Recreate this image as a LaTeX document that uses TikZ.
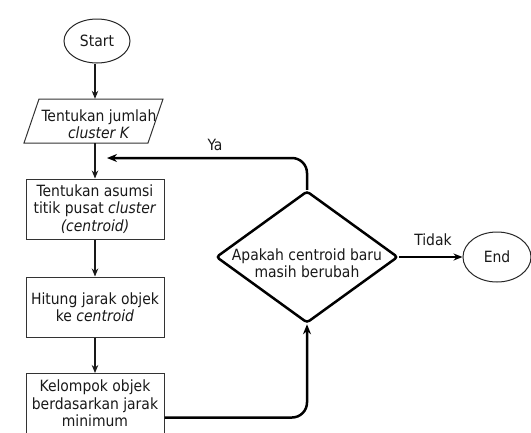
\documentclass[tikz,border=0pt]{standalone}
\usepackage{fontspec}
\setmainfont{DejaVu Sans Condensed}
\usetikzlibrary{shapes.geometric,arrows.meta}
\begin{document}
\begin{tikzpicture}[x=1pt,y=-1pt,
  every node/.style={font=\fontsize{15.5}{17.5}\selectfont, align=center, text=black!90},
  box/.style={draw=black!80, line width=1pt, minimum width=138pt, minimum height=60pt, inner sep=0pt},
  term/.style={draw=black!85, ellipse, line width=1pt, inner sep=0pt},
  flowarrow/.style={draw=black!90, line width=1.1pt, -{Stealth[length=8pt,width=6.5pt]}},
  loopline/.style={draw=black, line width=2.5pt, rounded corners=15pt, -{Stealth[length=10pt,width=8pt]}},
  exitarrow/.style={draw=black, line width=1.5pt, -{Stealth[length=9pt,width=7pt]}}
]
\useasboundingbox (0,0) rectangle (531,432);
% terminals
\node[term, minimum width=66pt, minimum height=44pt] (start) at (97,41) {Start};
\node[term, minimum width=68pt, minimum height=50pt] (end) at (497,257) {End};
% input parallelogram
\node[inner sep=0pt, minimum height=44pt, minimum width=124pt] (par) at (95,121) {};
\node[inner sep=0pt] (partext) at (99,124) {Tentukan jumlah\\\textit{cluster K}};
\draw[line width=1pt, black!80] (39,99) -- (163,99) -- (148,143) -- (24,143) -- cycle;
% process boxes
\node[box] (b1) at (95,209) {Tentukan asumsi\\titik pusat \textit{cluster}\\\textit{(centroid)}};
\node[box] (b2) at (95,307) {Hitung jarak objek\\ke \textit{centroid}};
\node[box] (b3) at (95,403.5) {Kelompok objek\\berdasarkan jarak\\minimum};
% decision
\node[diamond, draw=black, line width=2.5pt, aspect=1.379, minimum width=182pt, minimum height=132pt, inner sep=0pt, rounded corners=3pt] (d) at (307,257) {};
\node[inner sep=0pt] (dtext) at (307,263) {Apakah centroid baru\\masih berubah};
% connectors
\draw[flowarrow] (start.south -| par.north) -- (par.north);
\draw[flowarrow] (par.south) -- (b1.north);
\draw[flowarrow] (b1.south) -- (b2.north);
\draw[flowarrow] (b2.south) -- (b3.north);
\coordinate (yaend) at (107,158);
\draw[loopline] (d.north) |- (yaend);
\node (ya) at (215,145) {Ya};
\draw[loopline] ([yshift=-14pt]b3.east) -| (d.south);
\draw[exitarrow] (d.east) -- (end.west);
\node (tidak) at (433,240) {Tidak};
\end{tikzpicture}
\end{document}
